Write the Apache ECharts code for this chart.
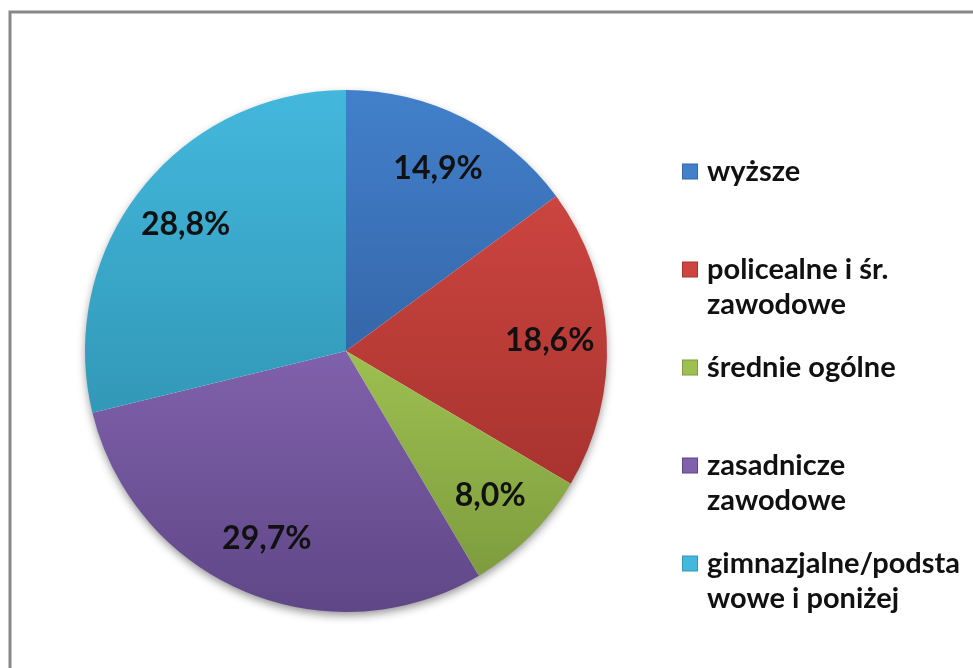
<!DOCTYPE html>
<html>
<head>
<meta charset="utf-8">
<script src="https://cdn.jsdelivr.net/npm/echarts@6/dist/echarts.min.js"></script>
<style>
  html, body { margin: 0; padding: 0; background: #fff; }
  #chart { width: 973px; height: 668px; }
</style>
</head>
<body>
<div id="chart"></div>
<script>
// education level shares (percent)
const categories = ['wyższe', 'policealne i śr.\nzawodowe', 'średnie ogólne', 'zasadnicze\nzawodowe', 'gimnazjalne/podsta\nwowe i poniżej']
const shares = [14.9, 18.6, 8.0, 29.7, 28.8]
const colorStops = [
  ['#4280cb', '#3567a9'],
  ['#cc4540', '#a8332f'],
  ['#9dc050', '#7e9c3e'],
  ['#8061ab', '#5f4787'],
  ['#43b8dc', '#3298b8']
]

const fontFamily = 'Lato, "Open Sans", sans-serif'
const cx = 346
const cy = 351
const r = 261

const fill = (pair) => new echarts.graphic.LinearGradient(0, 0, 0, 1, [
  { offset: 0, color: pair[0] },
  { offset: 1, color: pair[1] }
])

const pieData = categories.map((name, i) => ({
  name,
  value: shares[i],
  itemStyle: { color: fill(colorStops[i]) }
}))

// legend squares drawn as rich-text boxes so they sit on the first text line
const rich = {
  gap: { width: 10 },
  ind: { width: 24, height: 35 },
  t: { fontFamily, fontSize: 29, fontWeight: 'bold', color: '#111', lineHeight: 35 }
}
colorStops.forEach((pair, i) => {
  rich['sq' + i] = {
    width: 14,
    height: 14,
    backgroundColor: pair[0],
    borderColor: pair[1],
    borderWidth: 1,
    verticalAlign: 'middle'
  }
})

const chart = echarts.init(document.getElementById('chart'), null, { renderer: 'canvas' })

chart.setOption({
  animation: false,
  backgroundColor: '#fff',
  graphic: [
    {
      type: 'rect',
      shape: { x: 10, y: 12, width: 1000, height: 700 },
      style: { fill: 'none', stroke: '#888', lineWidth: 3 },
      silent: true
    }
  ],
  legend: {
    orient: 'vertical',
    left: 673,
    top: 149,
    itemWidth: 0,
    itemHeight: 0,
    itemGap: 28,
    icon: 'none',
    selectedMode: false,
    data: categories,
    formatter: (name) => {
      const i = categories.indexOf(name)
      const [l1, l2] = name.split('\n')
      return `{sq${i}|}{gap|}{t|${l1}}\n{ind|}{t|${l2 || ' '}}`
    },
    textStyle: {
      fontFamily,
      fontSize: 29,
      fontWeight: 'bold',
      color: '#111',
      lineHeight: 35,
      rich
    }
  },
  series: [
    {
      // soft shadow under the whole disc
      type: 'pie',
      silent: true,
      center: [cx, cy],
      radius: [0, r - 1],
      label: { show: false },
      labelLine: { show: false },
      itemStyle: {
        color: '#fff',
        shadowBlur: 10,
        shadowOffsetY: 4,
        shadowColor: 'rgba(0,0,0,0.45)'
      },
      data: [{ name: '_base', value: 1 }],
      z: 1
    },
    {
      name: 'wykształcenie',
      type: 'pie',
      center: [cx, cy],
      radius: [0, r],
      startAngle: 90,
      clockwise: true,
      silent: true,
      label: { show: false },
      labelLine: { show: false },
      itemStyle: { borderWidth: 0 },
      data: pieData,
      z: 2
    },
    {
      // transparent ring carrying the value labels at ~0.77 r
      type: 'pie',
      center: [cx, cy],
      radius: [r * 0.54, r],
      startAngle: 90,
      clockwise: true,
      silent: true,
      itemStyle: { color: 'rgba(0,0,0,0)', borderWidth: 0 },
      label: {
        show: true,
        position: 'inside',
        fontFamily,
        fontSize: 32,
        fontWeight: 'bold',
        color: '#111',
        formatter: (p) => p.value.toFixed(1).replace('.', ',') + '%'
      },
      labelLine: { show: false },
      data: categories.map((name, i) => ({ name: 'lbl' + i, value: shares[i] })),
      z: 3
    }
  ]
})
</script>
</body>
</html>
